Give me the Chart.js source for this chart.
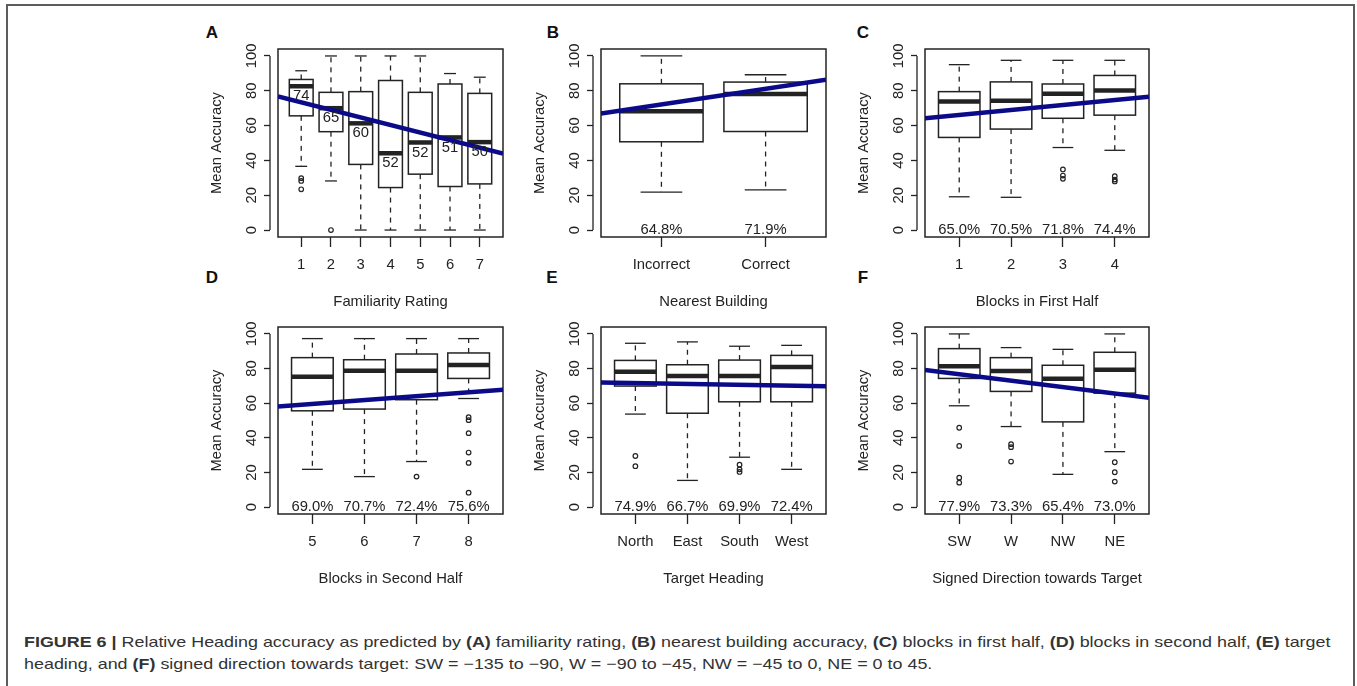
<!DOCTYPE html>
<html>
<head>
<meta charset="utf-8">
<script src="https://cdn.jsdelivr.net/npm/chart.js@4.4.1/dist/chart.umd.min.js"></script>
<style>
  html, body { margin: 0; padding: 0; background: #fff; }
  body { width: 1357px; height: 686px; position: relative; overflow: hidden; font-family: "Liberation Sans", Arial, sans-serif; }
  #frame { position: absolute; left: 6px; top: 4px; width: 1345px; height: 720px; border: 2px solid #5c5c5c; border-bottom: none; }
  canvas { position: absolute; }
  .tag { position: absolute; font: bold 17px "Liberation Sans", Arial, sans-serif; color: #111; transform: translate(-50%, -50%); }
  .cap { position: absolute; left: 24px; font-size: 15px; line-height: 15px; color: #333; white-space: nowrap; transform-origin: 0 0; }
</style>
</head>
<body>
<div id="frame"></div>
<div class="tag" style="left:212px;top:33px">A</div>
<div class="tag" style="left:553px;top:33px">B</div>
<div class="tag" style="left:863px;top:33px">C</div>
<div class="tag" style="left:212px;top:278px">D</div>
<div class="tag" style="left:552px;top:278px">E</div>
<div class="tag" style="left:863px;top:278px">F</div>
<div class="cap" id="cap1" style="top:634px"><b>FIGURE 6 |</b> Relative Heading accuracy as predicted by <b>(A)</b> familiarity rating, <b>(B)</b> nearest building accuracy, <b>(C)</b> blocks in first half, <b>(D)</b> blocks in second half, <b>(E)</b> target</div>
<div class="cap" id="cap2" style="top:656px">heading, and <b>(F)</b> signed direction towards target: SW = &minus;135 to &minus;90, W = &minus;90 to &minus;45, NW = &minus;45 to 0, NE = 0 to 45.</div>

<script>
// ---- data (Mean Accuracy, %) ----
const yTicks = [0, 20, 40, 60, 80, 100];

// A: familiarity rating
const catsA  = ['1', '2', '3', '4', '5', '6', '7'];
const lowA   = [36.6, 28.2, 0, 0, 0, 0, 0];
const q1A    = [65.6, 56.5, 37.7, 24.4, 32.1, 25.0, 26.5];
const medA   = [82.6, 70.0, 61.3, 44.1, 50.3, 53.2, 50.5];
const q3A    = [86.5, 79.1, 79.5, 85.9, 79.1, 83.9, 78.5];
const highA  = [91.5, 100, 100, 100, 100, 89.9, 87.8];
const outA   = [[29.8, 28.2, 23.4], [0], [], [], [], [], []];
const textA  = ['74', '65', '60', '52', '52', '51', '50'];
const fitA   = [77.75, -4.34];   // intercept, slope

// B: nearest building
const catsB  = ['Incorrect', 'Correct'];
const lowB   = [21.8, 23.1];
const q1B    = [50.7, 56.6];
const medB   = [68.2, 78.2];
const q3B    = [84.0, 85.0];
const highB  = [100, 89.2];
const outB   = [[], []];
const textB  = ['64.8%', '71.9%'];
const fitB   = [63.13, 8.98];

// C: blocks in first half
const catsC  = ['1', '2', '3', '4'];
const lowC   = [19.1, 18.8, 47.4, 45.8];
const q1C    = [53.2, 58.0, 64.2, 66.0];
const medC   = [73.9, 74.3, 78.3, 80.1];
const q3C    = [79.5, 85.1, 83.9, 88.8];
const highC  = [95.0, 97.5, 97.5, 97.5];
const outC   = [[], [], [34.8, 31.3, 29.4], [30.9, 29.0, 27.9]];
const textC  = ['65.0%', '70.5%', '71.8%', '74.4%'];
const fitC   = [63.22, 2.87];

// D: blocks in second half
const catsD  = ['5', '6', '7', '8'];
const lowD   = [21.8, 17.6, 26.3, 62.7];
const q1D    = [55.6, 56.6, 62.0, 74.3];
const medD   = [75.3, 78.8, 78.8, 82.0];
const q3D    = [86.3, 85.1, 88.4, 89.0];
const highD  = [97.3, 97.3, 97.3, 97.3];
const outD   = [[], [], [17.6], [51.9, 50.2, 42.7, 31.5, 25.5, 8.3]];
const textD  = ['69.0%', '70.7%', '72.4%', '75.6%'];
const fitD   = [57.34, 2.25];

// E: target heading
const catsE  = ['North', 'East', 'South', 'West'];
const lowE   = [53.7, 15.4, 28.8, 21.8];
const q1E    = [69.9, 54.2, 60.8, 60.8];
const medE   = [78.2, 75.7, 75.7, 80.9];
const q3E    = [84.7, 82.2, 84.9, 87.6];
const highE  = [94.6, 95.4, 92.9, 93.4];
const outE   = [[29.5, 23.6], [], [24.5, 21.8, 20.3], []];
const textE  = ['74.9%', '66.7%', '69.9%', '72.4%'];
const fitE   = [72.18, -0.53];

// F: signed direction towards target
const catsF  = ['SW', 'W', 'NW', 'NE'];
const lowF   = [58.5, 46.5, 18.9, 32.0];
const q1F    = [74.3, 66.8, 49.2, 65.8];
const medF   = [81.3, 78.6, 74.1, 79.3];
const q3F    = [91.5, 86.3, 81.9, 89.4];
const highF  = [100, 92.1, 91.1, 100];
const outF   = [[45.8, 35.3, 17.0, 14.1], [36.3, 34.6, 26.3], [], [25.9, 20.1, 14.7]];
const textF  = ['77.9%', '73.3%', '65.4%', '73.0%'];
const fitF   = [80.47, -3.73];

// ---- look ----
const FONT = '"Liberation Sans", Arial, sans-serif';
const FSIZE = 14.8;
const INK = '#232323';
const NAVY = '#0b0b8a';
const AXIS_W = 78, AXIS_H = 80, PAD_T = 9, PAD_R = 7, AXIS_GAP = 8;
const BOX_WEX = 0.8, STAPLE = 0.5;

const panels = [
  { cats: catsA, low: lowA, q1: q1A, med: medA, q3: q3A, high: highA, out: outA, text: textA, fit: fitA, title: 'Familiarity Rating', atMedian: true, box: [278, 49, 503, 237] },
  { cats: catsB, low: lowB, q1: q1B, med: medB, q3: q3B, high: highB, out: outB, text: textB, fit: fitB, title: 'Nearest Building', box: [601, 49, 826, 237] },
  { cats: catsC, low: lowC, q1: q1C, med: medC, q3: q3C, high: highC, out: outC, text: textC, fit: fitC, title: 'Blocks in First Half', box: [925, 49, 1149, 237] },
  { cats: catsD, low: lowD, q1: q1D, med: medD, q3: q3D, high: highD, out: outD, text: textD, fit: fitD, title: 'Blocks in Second Half', box: [278, 327, 503, 514] },
  { cats: catsE, low: lowE, q1: q1E, med: medE, q3: q3E, high: highE, out: outE, text: textE, fit: fitE, title: 'Target Heading', box: [601, 327, 826, 514] },
  { cats: catsF, low: lowF, q1: q1F, med: medF, q3: q3F, high: highF, out: outF, text: textF, fit: fitF, title: 'Signed Direction towards Target', box: [925, 327, 1149, 514] }
];

// R-style boxplot drawn through the chart scales
function boxPlugin(p) {
  return {
    id: 'rbox',
    beforeDatasetsDraw(chart) {
      const { ctx, chartArea: a, scales: { x, y } } = chart;
      const seg = (x1, y1, x2, y2) => { ctx.beginPath(); ctx.moveTo(x1, y1); ctx.lineTo(x2, y2); ctx.stroke(); };
      ctx.save();
      ctx.strokeStyle = INK;
      ctx.lineWidth = 1.5;
      ctx.strokeRect(a.left, a.top, a.right - a.left, a.bottom - a.top);
      // detached y axis line, 0..100
      ctx.lineWidth = 1.3;
      seg(a.left - AXIS_GAP, y.getPixelForValue(yTicks[0]), a.left - AXIS_GAP, y.getPixelForValue(yTicks[yTicks.length - 1]));

      p.cats.forEach((c, i) => {
        const cx = x.getPixelForValue(i + 1);
        const half = x.getPixelForValue(i + 1 + BOX_WEX / 2) - cx;
        const cap = half * STAPLE;
        const yl = y.getPixelForValue(p.low[i]);
        const y1 = y.getPixelForValue(p.q1[i]);
        const ym = y.getPixelForValue(p.med[i]);
        const y3 = y.getPixelForValue(p.q3[i]);
        const yh = y.getPixelForValue(p.high[i]);
        ctx.lineWidth = 1.3;
        ctx.setLineDash([5, 5]);
        seg(cx, y1, cx, yl);
        seg(cx, y3, cx, yh);
        ctx.setLineDash([]);
        seg(cx - cap, yl, cx + cap, yl);
        seg(cx - cap, yh, cx + cap, yh);
        ctx.lineWidth = 1.5;
        ctx.strokeRect(cx - half, y3, 2 * half, y1 - y3);
        ctx.lineWidth = 4.5;
        seg(cx - half, ym, cx + half, ym);
      });
      ctx.restore();
    },
    afterDatasetsDraw(chart) {
      const { ctx, scales: { x, y } } = chart;
      ctx.save();
      ctx.fillStyle = INK;
      ctx.font = FSIZE + 'px ' + FONT;
      ctx.textAlign = 'center';
      ctx.textBaseline = 'middle';
      p.text.forEach((t, i) => {
        const cx = x.getPixelForValue(i + 1);
        const ty = p.atMedian ? y.getPixelForValue(p.med[i]) + 10 : y.getPixelForValue(0);
        ctx.fillText(t, cx, ty);
      });
      ctx.restore();
    }
  };
}

function drawPanel(p) {
  const n = p.cats.length;
  const xMin = 0.5 - 0.04 * n, xMax = n + 0.5 + 0.04 * n;
  const [left, top, right, bottom] = p.box;
  const W = right - left + AXIS_W + PAD_R;
  const H = bottom - top + PAD_T + AXIS_H;
  const canvas = document.createElement('canvas');
  canvas.width = W; canvas.height = H;
  canvas.style.left = (left - AXIS_W) + 'px';
  canvas.style.top = (top - PAD_T) + 'px';
  canvas.style.width = W + 'px';
  canvas.style.height = H + 'px';
  document.body.appendChild(canvas);

  const fitAt = v => p.fit[0] + p.fit[1] * v;
  const outliers = [];
  p.out.forEach((vals, i) => vals.forEach(v => outliers.push({ x: i + 1, y: v })));

  new Chart(canvas, {
    type: 'scatter',
    data: {
      datasets: [
        { type: 'line', data: [{ x: xMin, y: fitAt(xMin) }, { x: xMax, y: fitAt(xMax) }],
          borderColor: NAVY, borderWidth: 4.5, pointRadius: 0, clip: 0, order: 0 },
        { data: outliers, pointRadius: 2.3, borderWidth: 1.2, borderColor: INK,
          backgroundColor: 'rgba(0,0,0,0)', order: 1 }
      ]
    },
    options: {
      responsive: false,
      animation: false,
      devicePixelRatio: 1,
      events: [],
      layout: { padding: { left: 0, top: PAD_T, right: PAD_R, bottom: 0 } },
      plugins: { legend: { display: false }, tooltip: { enabled: false } },
      scales: {
        x: {
          type: 'linear', min: xMin, max: xMax,
          afterBuildTicks: s => { s.ticks = p.cats.map((c, i) => ({ value: i + 1 })); },
          afterFit: s => { s.height = AXIS_H; s.paddingLeft = 0; s.paddingRight = 0; },
          ticks: { autoSkip: false, minRotation: 0, maxRotation: 0, padding: 9.5, color: INK,
                   font: { family: FONT, size: FSIZE }, callback: v => p.cats[Math.round(v) - 1] },
          grid: { drawOnChartArea: false, tickLength: 10, tickColor: INK, tickWidth: 1.3 },
          border: { display: false },
          title: { display: true, text: p.title, color: INK, font: { family: FONT, size: FSIZE },
                   padding: { top: 0, bottom: 6.5 } }
        },
        y: {
          type: 'linear', min: -4, max: 104,
          afterBuildTicks: s => { s.ticks = yTicks.map(v => ({ value: v })); },
          afterFit: s => { s.width = AXIS_W; s.paddingTop = 0; s.paddingBottom = 0; },
          ticks: { minRotation: 90, maxRotation: 90, crossAlign: 'center', padding: 0, color: INK,
                   font: { family: FONT, size: FSIZE } },
          grid: { drawOnChartArea: false, tickLength: 14, tickColor: INK, tickWidth: 1.3,
                  tickBorderDash: [6, 40] },
          border: { display: false },
          title: { display: true, text: 'Mean Accuracy', color: INK, font: { family: FONT, size: FSIZE },
                   padding: { top: 7.6, bottom: 0 } }
        }
      }
    },
    plugins: [boxPlugin(p)]
  });
}

panels.forEach(drawPanel);

// squeeze the caption to the printed line length
const cap1 = document.getElementById('cap1');
const cap2 = document.getElementById('cap2');
const sx = 1306 / cap1.scrollWidth;
cap1.style.transform = 'scaleX(' + sx + ')';
cap2.style.transform = 'scaleX(' + sx + ')';
</script>
</body>
</html>
